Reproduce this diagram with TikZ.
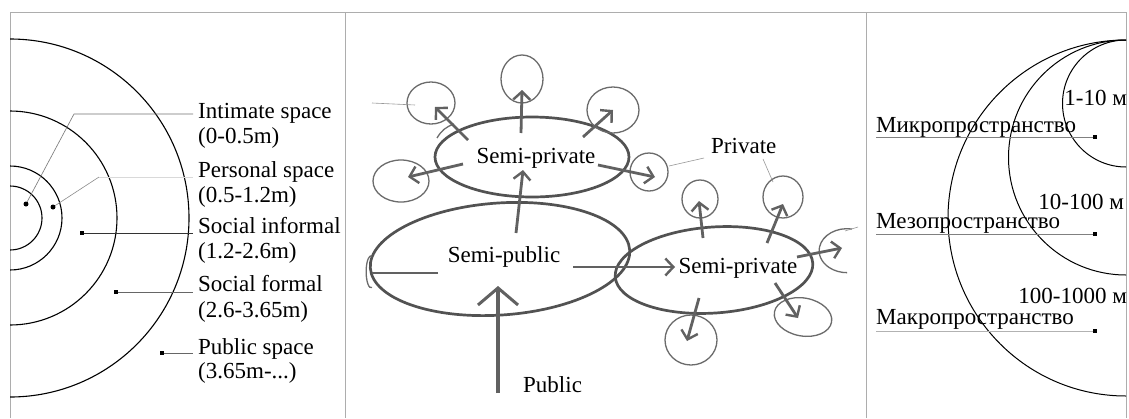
\documentclass[tikz,border=0pt]{standalone}
\usepackage{fontspec}
\setmainfont{Liberation Serif}
\usetikzlibrary{arrows.meta}
\begin{document}
\begin{tikzpicture}[x=1pt,y=-1pt,
  txt/.style={font=\fontsize{23}{24}\selectfont, inner sep=0pt, anchor=base west},
  txtc/.style={font=\fontsize{23}{24}\selectfont, inner sep=0pt, anchor=base},
  frame/.style={draw=black!32, line width=0.9pt},
  ring/.style={draw=black, line width=1.1pt},
  sk/.style={draw=black!68, line width=2.7pt},
  skc/.style={draw=black!58, line width=1.3pt},
  ska/.style={draw=black!62, line width=2.8pt, -{Straight Barb[length=8pt,width=17pt,line width=2.4pt]}},
  skbig/.style={draw=black!62, line width=3.2pt, -{Straight Barb[length=17pt,width=40pt,line width=3pt]}},
  lead/.style={draw=black!40, line width=0.6pt},
  sq/.style={fill=black, inner sep=0pt, minimum size=4.5pt, draw=none, rectangle},
  dotn/.style={fill=black, circle, inner sep=0pt, minimum size=5pt},
]
\useasboundingbox (0,0) rectangle (1129,418);
\fill[white] (0,0) rectangle (1129,418);

% frame
\draw[frame] (10,418) -- (10,12) -- (1126,12) -- (1126,418);
\draw[frame] (345,12) -- (345,418);
\draw[frame] (866,12) -- (866,418);

% ---------- panel 1 ----------
\begin{scope}
\clip (10,12) rectangle (345,418);
\foreach \r in {179,107,52,32} \draw[ring] (10,218) circle[radius=\r];
\end{scope}
\node[dotn] (d1) at (26,204) {};
\node[dotn] (d2) at (53,207) {};
\node[sq] (d3) at (82,233) {};
\node[sq] (d4) at (116,292) {};
\node[sq] (d5) at (162,353) {};
\coordinate (k1) at (74,114); \coordinate (e1) at (193,114);
\coordinate (k2) at (99,177); \coordinate (e2) at (193,177);
\coordinate (e3) at (193,233);
\coordinate (e4) at (193,292);
\coordinate (e5) at (193,353);
\draw[draw=black!55, line width=0.6pt] (d1) -- (k1) -- (e1);
\draw[draw=black!45, line width=0.6pt] (d2) -- (k2);
\draw[draw=black!15, line width=0.8pt] (k2) -- (e2);
\draw[draw=black!80, line width=0.7pt] (d3) -- (e3);
\draw[draw=black!60, line width=0.7pt] (d4) -- (e4);
\draw[draw=black!60, line width=0.7pt] (d5) -- (e5);
\node[txt] (t1) at (198,118) {Intimate space};
\node[txt] (t1b) at (198,143) {(0-0.5m)};
\node[txt] (t2) at (198,177) {Personal space};
\node[txt] (t2b) at (198,202) {(0.5-1.2m)};
\node[txt] (t3) at (198,233) {Social informal};
\node[txt] (t3b) at (198,258) {(1.2-2.6m)};
\node[txt] (t4) at (198,291) {Social formal};
\node[txt] (t4b) at (198,317) {(2.6-3.65m)};
\node[txt] (t5) at (198,354) {Public space};
\node[txt] (t5b) at (198,378) {(3.65m-...)};

% ---------- panel 2 ----------
% main ellipses
\draw[sk] (532,157) ellipse[x radius=97, y radius=40];
\draw[sk, rotate around={4:(500,259)}] (500,259) ellipse[x radius=130, y radius=56];
\draw[sk, rotate around={4:(714,270)}] (714,270) ellipse[x radius=99, y radius=43];
% private circles
\draw[skc] (522,79) ellipse[x radius=21, y radius=24];
\draw[skc] (431,103) ellipse[x radius=24, y radius=21];
\draw[skc] (613,110) ellipse[x radius=26, y radius=23];
\draw[skc] (401,181) ellipse[x radius=28, y radius=21];
\draw[skc] (649,172) ellipse[x radius=19, y radius=19];
\draw[skc] (700,199) ellipse[x radius=18, y radius=19];
\draw[skc] (783,197) ellipse[x radius=20, y radius=21];
\draw[skc, rotate around={-10:(803,317)}] (803,317) ellipse[x radius=29, y radius=19];
\draw[skc] (691,340) ellipse[x radius=26, y radius=25];
\draw[skc] (852,229) arc[start angle=-80, end angle=-270, x radius=28, y radius=22];
\draw[skc] (372,256) arc[start angle=-80, end angle=-280, x radius=5, y radius=16];
\draw[skc] (437,138) to[bend left=20] (454,124);
% arrows
\coordinate (pa) at (498,393); \coordinate (pb) at (498,286);
\draw[skbig] (pa) -- (pb);
\coordinate (a2s) at (516,233); \coordinate (a2e) at (523,170);
\draw[ska] (a2s) -- (a2e);
\coordinate (a3s) at (573,267); \coordinate (a3e) at (675,267);
\draw[ska] (a3s) -- (a3e);
\coordinate (a4s) at (438,273); \coordinate (a4e) at (372,273);
\draw[draw=black!62, line width=2.8pt] (a4s) -- (a4e);
\draw[ska] (521,133) -- (522,90);
\draw[ska] (468,140) -- (435,107);
\draw[ska] (583,137) -- (613,110);
\draw[ska] (463,164) -- (408,177);
\draw[ska] (598,165) -- (655,177);
\draw[ska] (703,238) -- (699,201);
\draw[ska] (767,243) -- (783,204);
\draw[ska] (797,257) -- (842,248);
\draw[ska] (775,283) -- (798,318);
\draw[ska] (699,298) -- (687,341);
% thin leaders
\draw[lead] (372,103) -- (415,105);
\draw[lead] (669,166) -- (704,158);
\draw[lead] (763,159) -- (773,182);
\draw[lead] (845,231) -- (858,227);
% labels
\node[txtc] (sp1) at (536,163) {Semi-private};
\node[txtc] (spub) at (504,262) {Semi-public};
\node[txtc] (sp2) at (738,273) {Semi-private};
\node[txt] (priv) at (711,153) {Private};
\node[txt] (pub) at (523,392) {Public};

% ---------- panel 3 ----------
\begin{scope}
\clip (866,12) rectangle (1126,418);
\draw[ring, line width=1pt] (1126,218) circle[radius=178];
\draw[ring, line width=1pt] (1126,157.5) circle[radius=117.5];
\draw[ring, line width=1pt] (1126,103.5) circle[radius=63.5];
\end{scope}
\node[sq] (m1) at (1095,137) {};
\node[sq] (m2) at (1095,234) {};
\node[sq] (m3) at (1095,331) {};
\coordinate (l1) at (876,137);
\coordinate (l2) at (876,234);
\coordinate (l3) at (876,331);
\draw[draw=black!50, line width=0.7pt] (l1) -- (m1);
\draw[draw=black!50, line width=0.7pt] (l2) -- (m2);
\draw[draw=black!30, line width=0.7pt] (l3) -- (m3);
\node[txt] (w1) at (876,132) {Микропространство};
\node[txt] (w2) at (876,228) {Мезопространство};
\node[txt] (w3) at (876,324) {Макропространство};
\node[txt, anchor=base east] (r1) at (1127,105) {1-10 м};
\node[txt, anchor=base east] (r2) at (1124,209) {10-100 м};
\node[txt, anchor=base east] (r3) at (1127,303) {100-1000 м};
\end{tikzpicture}
\end{document}
